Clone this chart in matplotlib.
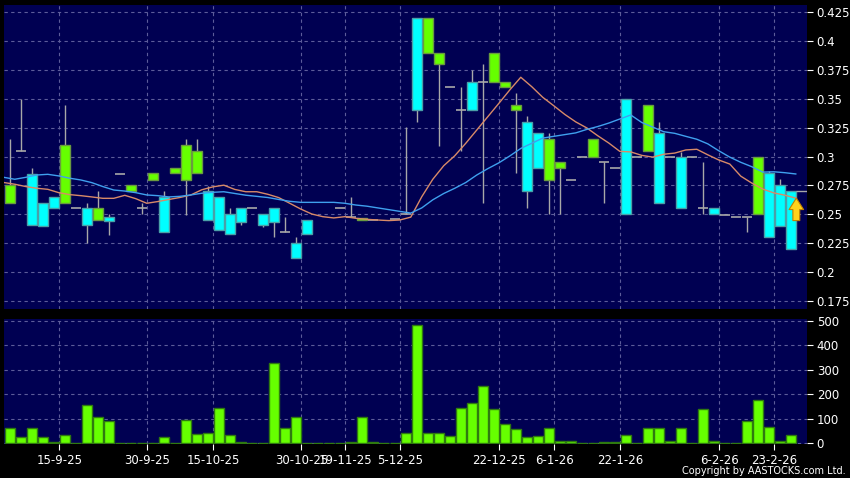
import numpy as np
import matplotlib
matplotlib.use("Agg")
import matplotlib.pyplot as plt

# ---------------- data ----------------
opens  = [0.275, 0.305, 0.241, 0.240, 0.255, 0.310, 0.255, 0.2405, 0.255, 0.244,
          0.285, 0.275, 0.255, 0.2855, 0.235, 0.290, 0.310, 0.305, 0.245, 0.2365,
          0.233, 0.243, 0.255, 0.2405, 0.2435, 0.235, 0.212, 0.2325, np.nan, np.nan,
          0.255, 0.2478, 0.247, 0.245, np.nan, 0.246, 0.250, 0.340, 0.420, 0.390,
          0.360, 0.340, 0.340, 0.365, 0.390, 0.365, 0.345, 0.270, 0.290, 0.315,
          0.295, 0.280, 0.300, 0.315, 0.295, 0.290, 0.250, 0.300, 0.345, 0.260,
          0.300, 0.255, 0.300, 0.255, 0.250, 0.249, 0.248, 0.248, 0.300, 0.230,
          0.240, 0.220]
highs  = [0.315, 0.350, 0.290, 0.260, 0.265, 0.345, 0.255, 0.260, 0.270, 0.250,
          0.285, 0.275, 0.260, 0.2855, 0.270, 0.290, 0.315, 0.315, 0.2745, 0.265,
          0.255, 0.255, 0.255, 0.250, 0.255, 0.2475, 0.230, 0.245, np.nan, np.nan,
          0.255, 0.265, 0.247, 0.245, np.nan, 0.246, 0.326, 0.420, 0.420, 0.390,
          0.360, 0.360, 0.375, 0.380, 0.390, 0.365, 0.355, 0.335, 0.320, 0.320,
          0.295, 0.280, 0.300, 0.315, 0.295, 0.290, 0.350, 0.300, 0.345, 0.330,
          0.300, 0.304, 0.300, 0.295, 0.255, 0.249, 0.248, 0.248, 0.300, 0.2875,
          0.2805, 0.270]
lows   = [0.260, 0.305, 0.241, 0.240, 0.255, 0.260, 0.255, 0.225, 0.245, 0.232,
          0.285, 0.270, 0.250, 0.280, 0.235, 0.2855, 0.249, 0.2855, 0.245, 0.2365,
          0.233, 0.241, 0.255, 0.239, 0.2305, 0.235, 0.212, 0.2325, np.nan, np.nan,
          0.255, 0.2478, 0.245, 0.245, np.nan, 0.246, 0.250, 0.330, 0.390, 0.3094,
          0.360, 0.305, 0.340, 0.260, 0.365, 0.360, 0.2855, 0.255, 0.290, 0.250,
          0.250, 0.280, 0.300, 0.300, 0.260, 0.290, 0.250, 0.300, 0.305, 0.260,
          0.300, 0.255, 0.300, 0.250, 0.250, 0.249, 0.248, 0.235, 0.250, 0.230,
          0.240, 0.220]
closes = [0.260, 0.305, 0.285, 0.260, 0.265, 0.260, 0.255, 0.255, 0.245, 0.2475,
          0.285, 0.270, 0.255, 0.280, 0.265, 0.2855, 0.280, 0.2855, 0.270, 0.265,
          0.250, 0.255, 0.255, 0.250, 0.255, 0.235, 0.225, 0.245, np.nan, np.nan,
          0.255, 0.2478, 0.245, 0.245, np.nan, 0.246, 0.250, 0.420, 0.390, 0.380,
          0.360, 0.340, 0.365, 0.365, 0.365, 0.360, 0.340, 0.330, 0.320, 0.280,
          0.290, 0.280, 0.300, 0.300, 0.295, 0.290, 0.350, 0.300, 0.305, 0.320,
          0.300, 0.300, 0.300, 0.255, 0.255, 0.249, 0.248, 0.248, 0.250, 0.2855,
          0.275, 0.270]
volumes = [63, 26, 63, 26, 4, 33, 0, 157, 108, 90,
           3, 0, 3, 0, 27, 0, 97, 37, 41, 143,
           33, 5, 0, 3, 328, 61, 108, 1, 0, 0,
           0, 7, 106, 4, 0, 0, 40, 482, 40, 40,
           29, 146, 166, 236, 139, 78, 57, 25, 30, 61,
           8, 8, 0, 0, 4, 7, 34, 3, 63, 61,
           8, 61, 3, 142, 8, 0, 3, 91, 176, 65,
           8, 34]
# moving averages, first value belongs to the day before the window
ma_short = [0.2775, 0.276, 0.274, 0.2725, 0.2716, 0.2687, 0.267, 0.2661, 0.265, 0.2638,
            0.2638, 0.2664, 0.2635, 0.2595, 0.2610, 0.2628, 0.2645, 0.2667, 0.2712, 0.2737,
            0.2752, 0.2715, 0.2695, 0.2695, 0.2673, 0.2644, 0.2595, 0.2545, 0.2502, 0.2479,
            0.2468, 0.2479, 0.2465, 0.2456, 0.245, 0.2445, 0.245, 0.2475, 0.2652, 0.2803,
            0.2921, 0.3007, 0.3115, 0.323, 0.3345, 0.346, 0.3577, 0.3687, 0.3605, 0.3513,
            0.344, 0.3365, 0.330, 0.3248, 0.318, 0.3117, 0.3045, 0.304, 0.301, 0.2995,
            0.302, 0.303, 0.3057, 0.3063, 0.3015, 0.297, 0.2935, 0.283, 0.277, 0.2718,
            0.2685, 0.2665, 0.264]
ma_long = [0.282, 0.2803, 0.282, 0.284, 0.2846, 0.2832, 0.2812, 0.2797, 0.2774, 0.274,
           0.271, 0.2701, 0.2687, 0.2667, 0.2661, 0.265, 0.2655, 0.2667, 0.2682, 0.269,
           0.2695, 0.268, 0.2665, 0.2655, 0.2645, 0.2628, 0.2612, 0.2603, 0.2603, 0.2603,
           0.2603, 0.2595, 0.258, 0.257, 0.2555, 0.254, 0.2525, 0.251, 0.2555, 0.2625,
           0.268, 0.2725, 0.2775, 0.284, 0.2895, 0.2945, 0.3005, 0.307, 0.3115, 0.316,
           0.3175, 0.319, 0.3205, 0.3235, 0.326, 0.329, 0.3325, 0.336, 0.3295, 0.3255,
           0.3215, 0.3201, 0.3175, 0.315, 0.311, 0.305, 0.2995, 0.295, 0.2912, 0.2865,
           0.2868, 0.286, 0.2849]
date_labels = ['15-9-25', '30-9-25', '15-10-25', '30-10-25', '19-11-25', '5-12-25',
               '22-12-25', '6-1-26', '22-1-26', '6-2-26', '23-2-26']
date_index = [5, 13, 19, 27, 31, 36, 45, 50, 56, 65, 70]
price_ticks = [0.175, 0.2, 0.225, 0.25, 0.275, 0.3, 0.325, 0.35, 0.375, 0.4, 0.425]
price_tick_labels = ['0.175', '0.2', '0.225', '0.25', '0.275', '0.3', '0.325', '0.35',
                     '0.375', '0.4', '0.425']
volume_ticks = [0, 100, 200, 300, 400, 500]

# ---------------- style ----------------
BG = '#000052'
GRID = '#5c5c9a'
UP = '#00ffff'
UP_EDGE = '#4aa0a8'
DOWN = '#66ff00'
DOWN_EDGE = '#6a9a40'
WICK = '#a8a8a8'
VOL = '#66ff00'
VOL_EDGE = '#2f7a10'
MA_S = '#d88a68'
MA_L = '#3fa0ee'

o = np.array(opens); h = np.array(highs); l = np.array(lows); c = np.array(closes)
n = len(o)
idx = np.arange(n)

fig = plt.figure(figsize=(8.5, 4.78), dpi=100, facecolor='black')
ax = fig.add_axes([4/850, 1-309/478, 803/850, 304/478])
axv = fig.add_axes([4/850, 1-444/478, 803/850, 125/478], sharex=ax)

for a in (ax, axv):
    a.set_facecolor(BG)
    for s in a.spines.values():
        s.set_visible(False)
    a.grid(True, color=GRID, linestyle=(0, (3, 3)), linewidth=0.8)
    a.set_axisbelow(True)
    a.yaxis.tick_right()
    a.tick_params(axis='y', colors='white', labelsize=8.5, length=4, width=0.8, pad=3)
    a.tick_params(axis='x', colors='white', labelsize=8.5, length=4, width=0.8, pad=3)

valid = ~np.isnan(o)
# wicks
ax.vlines(idx[valid], l[valid], h[valid], color=WICK, linewidth=1, zorder=2)
# bodies
up = valid & (c > o)
dn = valid & (c < o)
dj = valid & (c == o)
ax.bar(idx[up], (c - o)[up], bottom=o[up], width=0.9, color=UP, edgecolor=UP_EDGE,
       linewidth=1, zorder=3)
ax.bar(idx[dn], (o - c)[dn], bottom=c[dn], width=0.9, color=DOWN, edgecolor=DOWN_EDGE,
       linewidth=1, zorder=3)
ax.hlines(o[dj], idx[dj] - 0.45, idx[dj] + 0.45, color=WICK, linewidth=1.2, zorder=3)

# moving averages (drawn half a slot to the right, starting with previous day)
ma_x = np.arange(-1, n) + 0.45
ax.plot(ma_x, ma_short, color=MA_S, linewidth=1, zorder=4)
ax.plot(ma_x, ma_long, color=MA_L, linewidth=1, zorder=4)

# last price line and marker arrow
ax.hlines(c[-1], n - 1 + 0.45, n + 1, color=WICK, linewidth=1, zorder=3)
ax.annotate('', xy=(n - 1 + 0.5, ma_short[-1]), xytext=(n - 1 + 0.5, ma_short[-1] - 0.0195),
            arrowprops=dict(arrowstyle='simple,head_length=0.75,head_width=0.95,tail_width=0.45',
                            mutation_scale=11, shrinkA=0, shrinkB=0,
                            facecolor='#ffd21a', edgecolor='#c08000', linewidth=0.8),
            zorder=6)

ax.set_xlim(-0.53, 72.47)
ax.set_ylim(0.1679, 0.4313)
ax.set_yticks(price_ticks)
ax.set_yticklabels(price_tick_labels)
ax.tick_params(axis='x', which='both', bottom=False, labelbottom=False)

axv.bar(idx, volumes, width=0.9, color=VOL, edgecolor=VOL_EDGE, linewidth=1, zorder=3)
axv.set_ylim(-3, 508)
axv.set_yticks(volume_ticks)
axv.set_xticks(np.array(date_index) - 0.5)
axv.set_xticklabels(date_labels)

fig.text(846/850, 1 - 476/478, 'Copyright by AASTOCKS.com Ltd.', color='white',
         fontsize=7, ha='right', va='bottom')

fig.savefig('out.png', dpi=100, facecolor='black')
